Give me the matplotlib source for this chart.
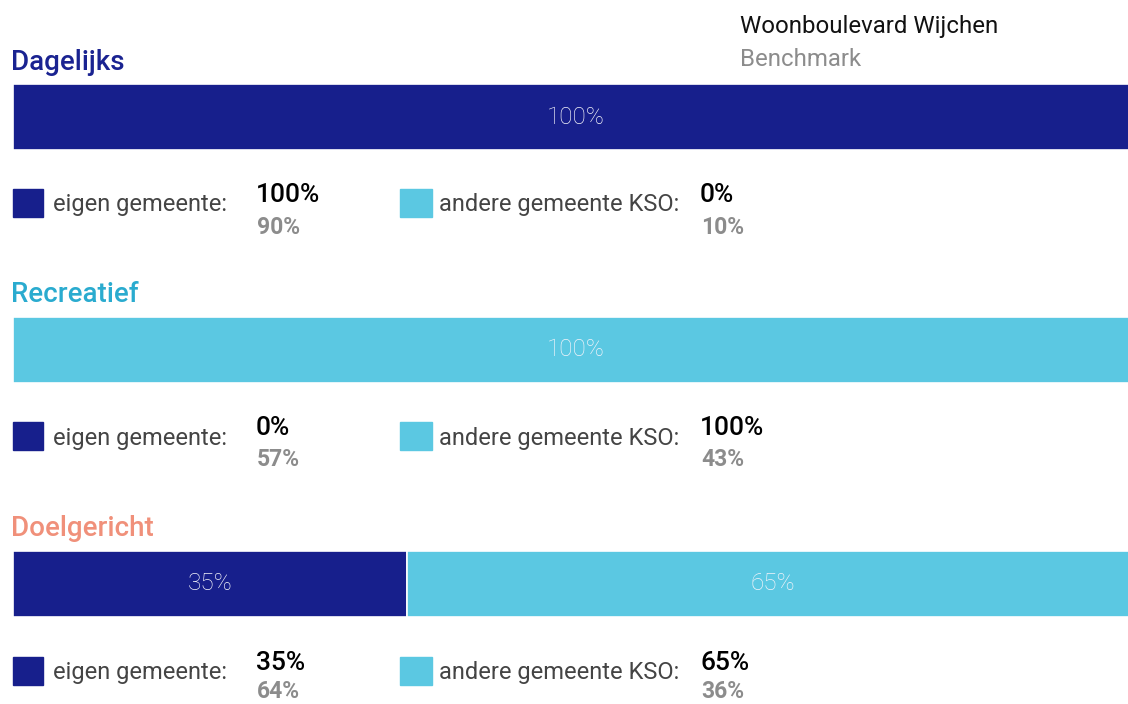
import matplotlib.pyplot as plt

# data
categories = ["Dagelijks", "Recreatief", "Doelgericht"]
eigen = [100, 0, 35]
andere = [0, 100, 65]
bench_eigen = [90, 57, 64]
bench_andere = [10, 43, 36]

title_colors = ["#1a2391", "#2aabcf", "#f0907a"]
navy = "#171f8c"
cyan = "#5bc8e2"

W, H = 1128, 704
fig = plt.figure(figsize=(W / 100, H / 100), dpi=100)
plt.rcParams['font.family'] = ['Roboto', 'DejaVu Sans']


def fx(px):
    return px / W


def fy(py):
    return 1 - py / H


# header
fig.text(fx(740), fy(26), "Woonboulevard Wijchen", fontsize=17.3, color="#111111", va="center")
fig.text(fx(740), fy(59), "Benchmark", fontsize=17.3, color="#8c8c8c", va="center")

bar_tops = [84, 317, 551]
bar_h = 66
for i, cat in enumerate(categories):
    top = bar_tops[i]
    fig.text(fx(11), fy(top - 22), cat, fontsize=20, fontweight="medium",
             color=title_colors[i], va="center")

    # bar runs slightly past the right edge of the figure
    ax = fig.add_axes([fx(13), fy(top + bar_h), fx(1126), bar_h / H])
    ax.set_xlim(0, 100)
    ax.set_ylim(0, 1)
    ax.axis("off")
    vals = [eigen[i], andere[i]]
    cols = [navy, cyan]
    left = 0
    for v, c in zip(vals, cols):
        if v > 0:
            ax.barh(0.5, v, left=left, height=1, color=c, edgecolor="white", linewidth=1.2)
            ax.text(left + v / 2, 0.5, f"{v}%", ha="center", va="center",
                    fontsize=17.5, color="#f4f4fa", fontweight="light")
        left += v

    # legend rows
    cy = top + bar_h + 53 + (1 if i == 2 else 0)
    bench_dy = 24 if i < 2 else 21
    ax_leg = fig.add_axes([0, 0, 1, 1], facecolor="none")
    ax_leg.set_xlim(0, W)
    ax_leg.set_ylim(H, 0)
    ax_leg.axis("off")
    ax_leg.add_patch(plt.Rectangle((13, cy - 14), 30, 28, color=navy))
    ax_leg.add_patch(plt.Rectangle((400, cy - 14), 32, 28, color=cyan))
    ax_leg.text(53, cy + 2, "eigen gemeente:", fontsize=17, color="#444444", va="center")
    ax_leg.text(439, cy + 2, "andere gemeente KSO:", fontsize=17, color="#444444", va="center")
    ax_leg.text(256, cy - 8, f"{eigen[i]}%", fontsize=19, fontweight="medium", color="black", va="center")
    ax_leg.text(257, cy + bench_dy, f"{bench_eigen[i]}%", fontsize=16.5, fontweight="bold", color="#8c8c8c", va="center")
    ax_leg.text(700, cy - 8, f"{andere[i]}%", fontsize=19, fontweight="medium", color="black", va="center")
    ax_leg.text(701, cy + bench_dy, f"{bench_andere[i]}%", fontsize=16.5, fontweight="bold", color="#8c8c8c", va="center")

plt.savefig("out.png", dpi=100)
